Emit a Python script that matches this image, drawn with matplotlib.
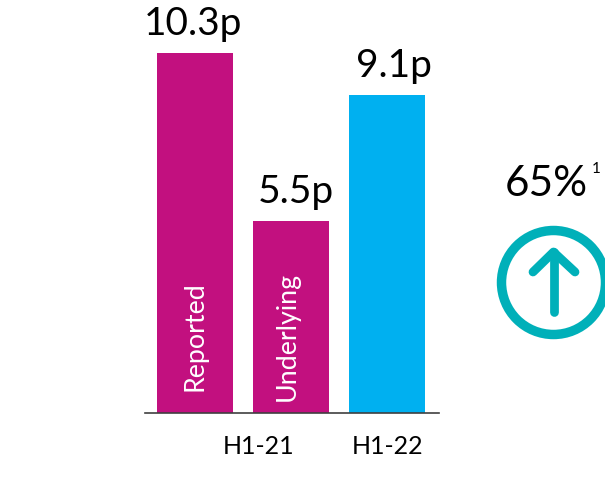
import matplotlib
matplotlib.use('Agg')
import matplotlib.pyplot as plt
from matplotlib.patches import Circle

plt.rcParams['font.family'] = ['Lato', 'DejaVu Sans']

# data
x_pos = [0, 1, 2]
values = [10.3, 5.5, 9.1]
value_labels = ['10.3p', '5.5p', '9.1p']
bar_colors = ['#C2107F', '#C2107F', '#00B0F0']
inner_labels = ['Reported', 'Underlying', '']
tick_pos = [0.66, 2.01]
tick_labels = ['H1-21', 'H1-22']
change_label = '65%'
note_label = '1'

W, H = 605, 479
fig = plt.figure(figsize=(W / 100, H / 100), dpi=100)

# one bar step is 96 px, one unit of value is 35 px
ax = fig.add_axes([145 / W, 1 - 413 / H, 294 / W, 413 / H])
ax.set_xlim(-50 / 96, 244 / 96)
ax.set_ylim(0, 413 / 35)
ax.bar(x_pos, values, width=0.8, color=bar_colors)
ax.spines[['top', 'left', 'right']].set_visible(False)
ax.spines['bottom'].set_linewidth(1.2)
ax.spines['bottom'].set_color('#404040')
ax.set_yticks([])
ax.set_xticks(tick_pos)
ax.set_xticklabels(tick_labels, fontsize=18)
ax.tick_params(axis='x', length=0, pad=15.5)

# label positions are not centred on the bars in the original
label_shift = [-0.025, 0.05, 0.07]
inner_shift = [0.0, -0.04, 0]
inner_base = [0.63, 0.35, 0]
for x, v, s, inner, ds, di, b in zip(x_pos, values, value_labels, inner_labels,
                                     label_shift, inner_shift, inner_base):
    ax.text(x + ds, v + 0.3, s, ha='center', va='bottom', fontsize=28)
    if inner:
        ax.text(x + di, b, inner, ha='center', va='bottom', rotation=90,
                color='white', fontsize=19.3)

# right side: arrow in circle
ov = fig.add_axes([0, 0, 1, 1])
ov.set_xlim(0, W)
ov.set_ylim(H, 0)
ov.axis('off')
ov.patch.set_alpha(0)
teal = '#00B0B9'
ov.add_patch(Circle((553.5, 282.5), 52, fill=False, ec=teal, lw=6.8))
ov.plot([553.5, 553.5], [252, 312], color=teal, lw=6.3, solid_capstyle='round')
ov.plot([533, 553.5, 575], [272, 252, 272], color=teal, lw=6.3,
        solid_capstyle='round', solid_joinstyle='round')
ov.text(546, 184, change_label, ha='center', va='center', fontsize=30.5)
ov.text(596, 169, note_label, ha='center', va='center', fontsize=11)

fig.savefig('out.png', dpi=100)
